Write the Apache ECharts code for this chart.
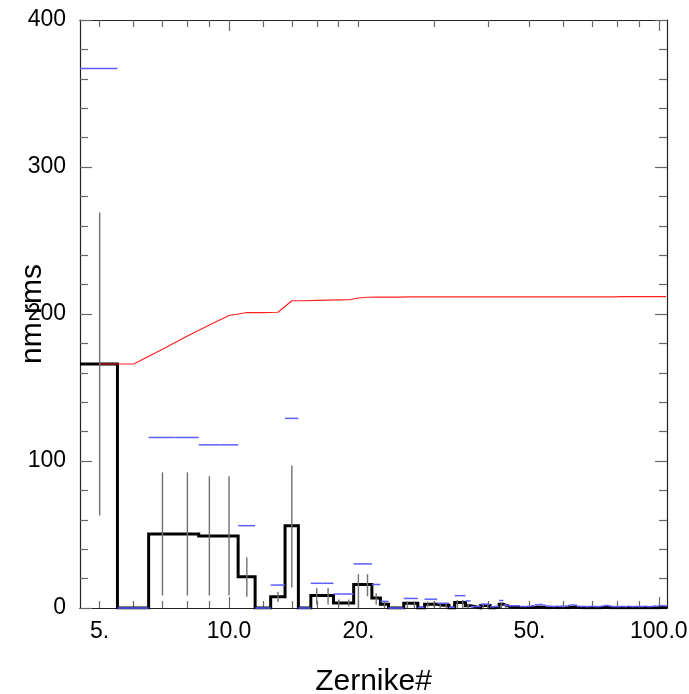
<!DOCTYPE html>
<html>
<head>
<meta charset="utf-8">
<script src="https://cdn.jsdelivr.net/npm/echarts@6/dist/echarts.min.js"></script>
<style>
  html, body { margin: 0; padding: 0; background: #ffffff; }
  #chart { width: 689px; height: 694px; }
</style>
</head>
<body>
<div id="chart"></div>
<script>
// Zernike mode numbers (one histogram bin per mode)
const zernike = [
  5, 6, 7, 8, 9, 10, 11, 12, 13, 14,
  15, 16, 17, 18, 19, 20, 21, 22, 23, 24,
  25, 26, 27, 28, 29, 30, 31, 32, 33, 34,
  35, 36, 37, 38, 39, 40, 41, 42, 43, 44,
  45, 46, 47, 48, 49, 50, 51, 52, 53, 54,
  55, 56, 57, 58, 59, 60, 61, 62, 63, 64,
  65, 66, 67, 68, 69, 70, 71, 72, 73, 74,
  75, 76, 77, 78, 79, 80, 81, 82, 83, 84,
  85, 86, 87, 88, 89, 90, 91, 92, 93, 94,
  95, 96, 97, 98, 99, 100, 101, 102, 103, 104
];

// Measured rms per mode (nm) – black histogram
const rmsMeasured = [
  166, 0, 50.4, 50.4, 49, 49, 21.3, 0, 7.7, 55.9,
  0, 8.5, 8.5, 3.4, 3.4, 16, 16, 6.8, 2.5, 0,
  0, 3.2, 3.2, 0, 2.5, 2.5, 1.8, 1.8, 0, 3.8,
  3.8, 1.6, 0.8, 0, 1.7, 1.7, 0, 0.6, 2.6, 1.5,
  0.6, 0.8, 0.5, 0.3, 0.4, 0.4, 0.3, 0.6, 0.5, 0.3,
  0.2, 0.4, 0.3, 0.2, 0.5, 0.3, 0.2, 0.4, 0.6, 0.4,
  0.3, 0.2, 0.3, 0.2, 0.4, 0.2, 0.3, 0.2, 0.2, 0.4,
  0.5, 0.3, 0.2, 0.2, 0.3, 0.2, 0.2, 0.3, 0.2, 0.2,
  0.3, 0.2, 0.2, 0.2, 0.3, 0.2, 0.2, 0.2, 0.3, 0.2,
  0.2, 0.2, 0.2, 0.3, 0.2, 0.2, 0.3, 0.4, 0.3, 0.2
];

// Reference rms per mode (nm) – blue level marks
const rmsReference = [
  367, 0, 116, 116, 111, 111, 56, 0, 15.6, 129,
  0, 16.8, 16.8, 9.5, 9.5, 30, 30, 16, 4.5, 0,
  0, 6.5, 6.5, 0.5, 6, 6, 3.2, 3.2, 0.5, 8.4,
  8.4, 4.8, 1, 1, 2.6, 2.6, 0.8, 1, 5.1, 2,
  1.5, 1.5, 1.5, 1, 1, 1.2, 1.5, 2.2, 2.4, 2.0,
  1.4, 1.2, 1.0, 1.2, 1.1, 1.0, 1.3, 1.8, 2.1, 1.9,
  1.2, 1.0, 1.1, 0.9, 1.0, 1.2, 1.0, 0.9, 1.0, 1.3,
  1.6, 1.7, 1.4, 1.0, 0.9, 1.0, 0.9, 1.1, 1.0, 0.9,
  1.2, 1.0, 0.9, 1.0, 1.1, 0.9, 1.0, 1.0, 1.2, 1.0,
  0.9, 1.0, 1.1, 1.3, 1.2, 1.4, 1.6, 1.7, 1.5, 1.4
];

// Cumulative rms (nm) – red curve
const rmsCumulative = [
  166, 166, 176, 185, 192.5, 199, 201, 201, 201.2, 209,
  209, 209.3, 209.5, 209.6, 209.7, 210.9, 211.4, 211.5, 211.5, 211.5,
  211.5, 211.6, 211.6, 211.6, 211.6, 211.6, 211.6, 211.6, 211.6, 211.7,
  211.7, 211.7, 211.7, 211.7, 211.7, 211.7, 211.7, 211.7, 211.7, 211.7,
  211.7, 211.7, 211.7, 211.7, 211.7, 211.7, 211.7, 211.7, 211.7, 211.7,
  211.7, 211.7, 211.7, 211.7, 211.7, 211.7, 211.7, 211.7, 211.7, 211.7,
  211.7, 211.7, 211.7, 211.7, 211.7, 211.7, 211.7, 211.7, 211.7, 211.7,
  211.7, 211.7, 211.7, 211.7, 211.7, 211.7, 211.8, 211.8, 211.8, 211.8,
  211.8, 211.8, 211.8, 211.8, 211.8, 211.8, 211.8, 211.8, 211.8, 211.8,
  211.8, 211.8, 211.8, 211.8, 211.8, 211.8, 211.8, 211.8, 211.8, 211.8
];

// Uncertainty ranges (nm) for the modes that carry an error bar
const errMode = [5, 7, 8, 9, 10, 11, 13, 14, 16, 17, 18, 19, 20, 21, 22, 23, 26, 27, 29, 30, 31, 32, 34, 35, 36, 39, 40, 43, 44];
const errLow  = [63, 8.5, 8.5, 8.5, 8.5, 7.7, 4, 14, 2.3, 2.3, 1, 1, 0, 8, 2.3, 0, 0, 0, 0.5, 0.5, 0, 0, 0, 0, 0, 0, 0, 0, 0];
const errHigh = [269, 92.3, 92.3, 89.6, 89.6, 34.5, 11, 97, 13.6, 13.6, 5.7, 5.7, 23, 23, 10, 4.5, 4.5, 4.5, 4.5, 4.5, 3.5, 3.5, 5.5, 5.5, 3, 3, 3, 4, 2.5];

// Axis ticks and labels
const xLabelValues = [5, 10, 20, 50, 100];
const xLabelTexts = ['5.', '10.0', '20.', '50.', '100.0'];
const xLongTicks = [10, 100];
const xShortTicks = [5, 6, 7, 8, 9, 12, 14, 16, 18, 20, 30, 40, 50, 60, 70, 80, 90];
const yMin = 0, yMax = 400, yStep = 100;
const xMin = 4.5, xMax = 104.5;

const FONT = '"Liberation Sans", Helvetica, Arial, sans-serif';

// Each bin spans half a mode on either side of its mode number
const stepPoints = [];
zernike.forEach((n, i) => {
  stepPoints.push([n - 0.5, rmsMeasured[i]]);
  stepPoints.push([n + 0.5, rmsMeasured[i]]);
});

function xAxisDef(position, ticks, len, withLabels) {
  return {
    type: 'log', logBase: 10, min: xMin, max: xMax, position: position,
    axisLine: { show: true, onZero: false, lineStyle: { color: '#222', width: 1.2 } },
    axisTick: { show: true, inside: true, length: len, customValues: ticks,
                lineStyle: { color: '#666', width: 1.2 } },
    minorTick: { show: false },
    splitLine: { show: false },
    axisLabel: withLabels ? {
      show: true, customValues: xLabelValues, margin: 12,
      fontFamily: FONT, fontSize: 23, color: '#000',
      formatter: v => {
        const k = xLabelValues.findIndex(t => Math.abs(t - v) < 1e-6);
        return k >= 0 ? xLabelTexts[k] : '';
      }
    } : { show: false },
    name: withLabels ? 'Zernike#' : '',
    nameLocation: 'middle', nameGap: 59, nameMoveOverlap: false,
    nameTextStyle: { fontFamily: FONT, fontSize: 30, color: '#000' }
  };
}

function yAxisDef(position, withLabels) {
  return {
    type: 'value', min: yMin, max: yMax, interval: yStep, position: position,
    axisLine: { show: true, onZero: false, lineStyle: { color: '#222', width: 1.2 } },
    axisTick: { show: true, inside: true, length: 12, lineStyle: { color: '#666', width: 1.2 } },
    minorTick: { show: true, splitNumber: 5, length: 8, lineStyle: { color: '#666', width: 1.2 } },
    splitLine: { show: false },
    axisLabel: withLabels ? { show: true, margin: 14, fontFamily: FONT, fontSize: 23, color: '#000' } : { show: false },
    name: withLabels ? 'nm rms' : '',
    nameLocation: 'middle', nameGap: 32, nameMoveOverlap: false,
    nameTextStyle: { fontFamily: FONT, fontSize: 30, color: '#000' }
  };
}

const chart = echarts.init(document.getElementById('chart'), null, { renderer: 'canvas' });

chart.setOption({
  animation: false,
  backgroundColor: '#ffffff',
  grid: { left: 80, right: 22, top: 20, bottom: 86, containLabel: false, outerBoundsMode: 'none' },
  xAxis: [
    xAxisDef('bottom', xLongTicks, 11, true),
    xAxisDef('bottom', xShortTicks, 7, false),
    xAxisDef('top', xLongTicks, 11, false),
    xAxisDef('top', xShortTicks, 7, false)
  ],
  yAxis: [
    yAxisDef('left', true),
    yAxisDef('right', false)
  ],
  series: [
    {
      name: 'measured',
      type: 'line',
      xAxisIndex: 0, yAxisIndex: 0,
      data: stepPoints,
      showSymbol: false,
      clip: true,
      lineStyle: { color: '#000000', width: 3, join: 'miter' },
      z: 3
    },
    {
      name: 'error',
      type: 'custom',
      xAxisIndex: 0, yAxisIndex: 0,
      data: errMode.map((n, i) => [n, errLow[i], errHigh[i]]),
      encode: { x: 0, y: [1, 2] },
      renderItem: (params, api) => {
        const a = api.coord([api.value(0), api.value(1)]);
        const b = api.coord([api.value(0), api.value(2)]);
        return {
          type: 'line',
          shape: { x1: a[0], y1: a[1], x2: b[0], y2: b[1] },
          style: { stroke: '#707070', lineWidth: 1.4 }
        };
      },
      z: 4
    },
    {
      name: 'reference',
      type: 'custom',
      xAxisIndex: 0, yAxisIndex: 0,
      data: zernike.map((n, i) => [n - 0.5, n + 0.5, rmsReference[i]]),
      encode: { x: [0, 1], y: 2 },
      renderItem: (params, api) => {
        const a = api.coord([api.value(0), api.value(2)]);
        const b = api.coord([api.value(1), api.value(2)]);
        return {
          type: 'line',
          shape: { x1: a[0], y1: a[1], x2: b[0], y2: b[1] },
          style: { stroke: '#5c5cff', lineWidth: 1.5 }
        };
      },
      z: 5
    },
    {
      name: 'cumulative',
      type: 'line',
      xAxisIndex: 0, yAxisIndex: 0,
      data: zernike.map((n, i) => [n, rmsCumulative[i]]),
      showSymbol: false,
      lineStyle: { color: '#ff2020', width: 1.2 },
      z: 6
    }
  ]
});
</script>
</body>
</html>
